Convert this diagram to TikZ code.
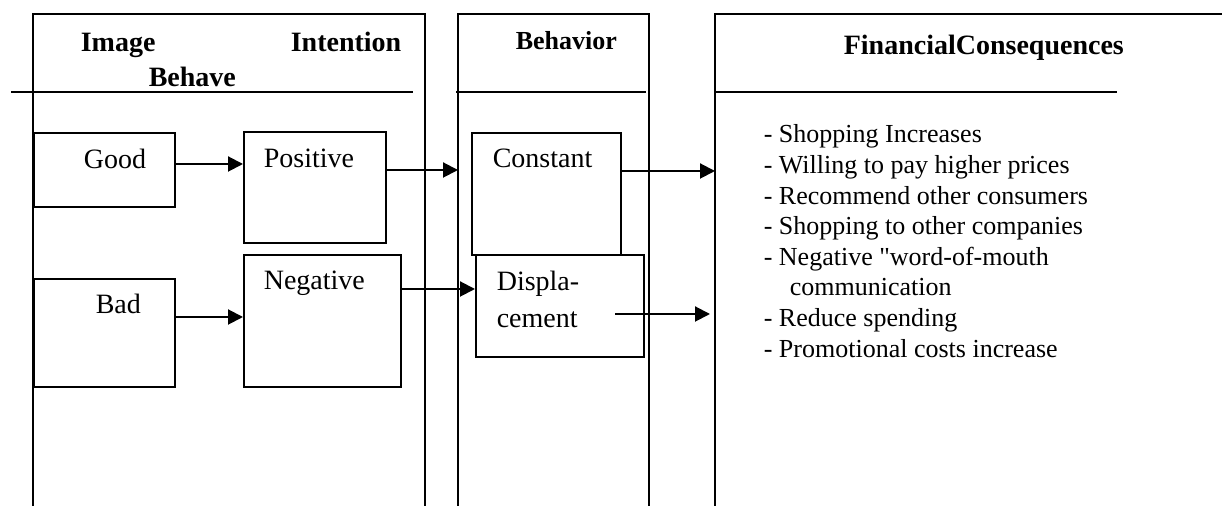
\documentclass[tikz,border=0pt]{standalone}
\usepackage{fontspec}
\setmainfont{Liberation Serif}
\newfontfamily\listfont{Liberation Serif}[Ligatures=TeXOff]
\usetikzlibrary{arrows.meta}
\tikzset{
  box/.style={draw, line width=0.8pt, anchor=north west, inner sep=0pt},
  conn/.style={line width=1pt, -{Triangle[length=7.5pt,width=7.5pt]}},
  lbl/.style={anchor=base west, inner sep=0pt, font=\fontsize{14}{16}\selectfont},
  head/.style={anchor=base west, inner sep=0pt, font=\fontsize{14}{16}\selectfont\bfseries},
  item/.style={anchor=base west, inner sep=0pt, font=\listfont\fontsize{13}{15}\selectfont}
}

\begin{document}
\begin{tikzpicture}[x=1pt, y=-1pt, line width=0.8pt]
\useasboundingbox (0,0) rectangle (611,253);
% three columns, open at the bottom
\draw (16.5,253) -- (16.5,7) -- (212.5,7) -- (212.5,253);
\draw (5.5,46) -- (206.5,46);
\draw (229,253) -- (229,7) -- (324.5,7) -- (324.5,253);
\draw (228,46) -- (323,46);
\draw (357.5,253) -- (357.5,7) -- (611,7);
\draw (357.5,46) -- (558.5,46);
% headings
\node[head] (img) at (40,26) {Image};
\node[head] (int) at (145,26) {Intention};
\node[head] (beh) at (74,43.5) {Behave};
\node[head, font=\fontsize{13}{15}\selectfont\bfseries] (bhv) at (257.5,25) {Behavior};
\node[head] (fin) at (421.5,27.5) {FinancialConsequences};
% boxes
\node[box, minimum width=70.5pt, minimum height=37pt] (good) at (16.5,66) {};
\node[box, minimum width=70.5pt, minimum height=54pt] (bad) at (16.5,139) {};
\node[box, minimum width=71pt, minimum height=55.5pt] (pos) at (121.5,65.5) {};
\node[box, minimum width=78.5pt, minimum height=66pt] (neg) at (121.5,127) {};
\node[box, minimum width=74.5pt, minimum height=61pt] (const) at (235.5,66) {};
\node[box, minimum width=84pt, minimum height=51pt] (disp) at (237.5,127) {};
\node[lbl] (goodt) at (41.5,84.5) {Good};
\node[lbl] (badt) at (47.5,157) {Bad};
\node[lbl] (post) at (131.5,84) {Positive};
\node[lbl] (negt) at (131.5,145) {Negative};
\node[lbl] (constt) at (246,84) {Constant};
\node[lbl] (dispa) at (248,145.5) {Displa-};
\node[lbl] (dispb) at (248,164) {cement};
% consequences
\foreach \t [count=\i from 0] in {- Shopping Increases, - Willing to pay higher prices,
  - Recommend other consumers, - Shopping to other companies,
  - Negative "word-of-mouth, \hspace*{13pt}communication,
  - Reduce spending, - Promotional costs increase}
  \node[item] (fc\i) at (381.5,71.5+15.3*\i) {\t};
% arrows
\coordinate (intoB) at (229,85);
\coordinate (intoC) at (357.5,85.5);
\coordinate (dispout) at (307.5,157);
\coordinate (intoCb) at (355,157);
\draw[conn] (good.east |- 0,82) -- (pos.west |- 0,82);
\draw[conn] (bad.east |- 0,158.5) -- (neg.west |- 0,158.5);
\draw[conn] (pos.east |- intoB) -- (intoB);
\draw[conn] (neg.east |- 0,144.5) -- (disp.west |- 0,144.5);
\draw[conn] (const.east |- intoC) -- (intoC);
\draw[conn] (dispout) -- (intoCb);
\end{tikzpicture}
\end{document}
